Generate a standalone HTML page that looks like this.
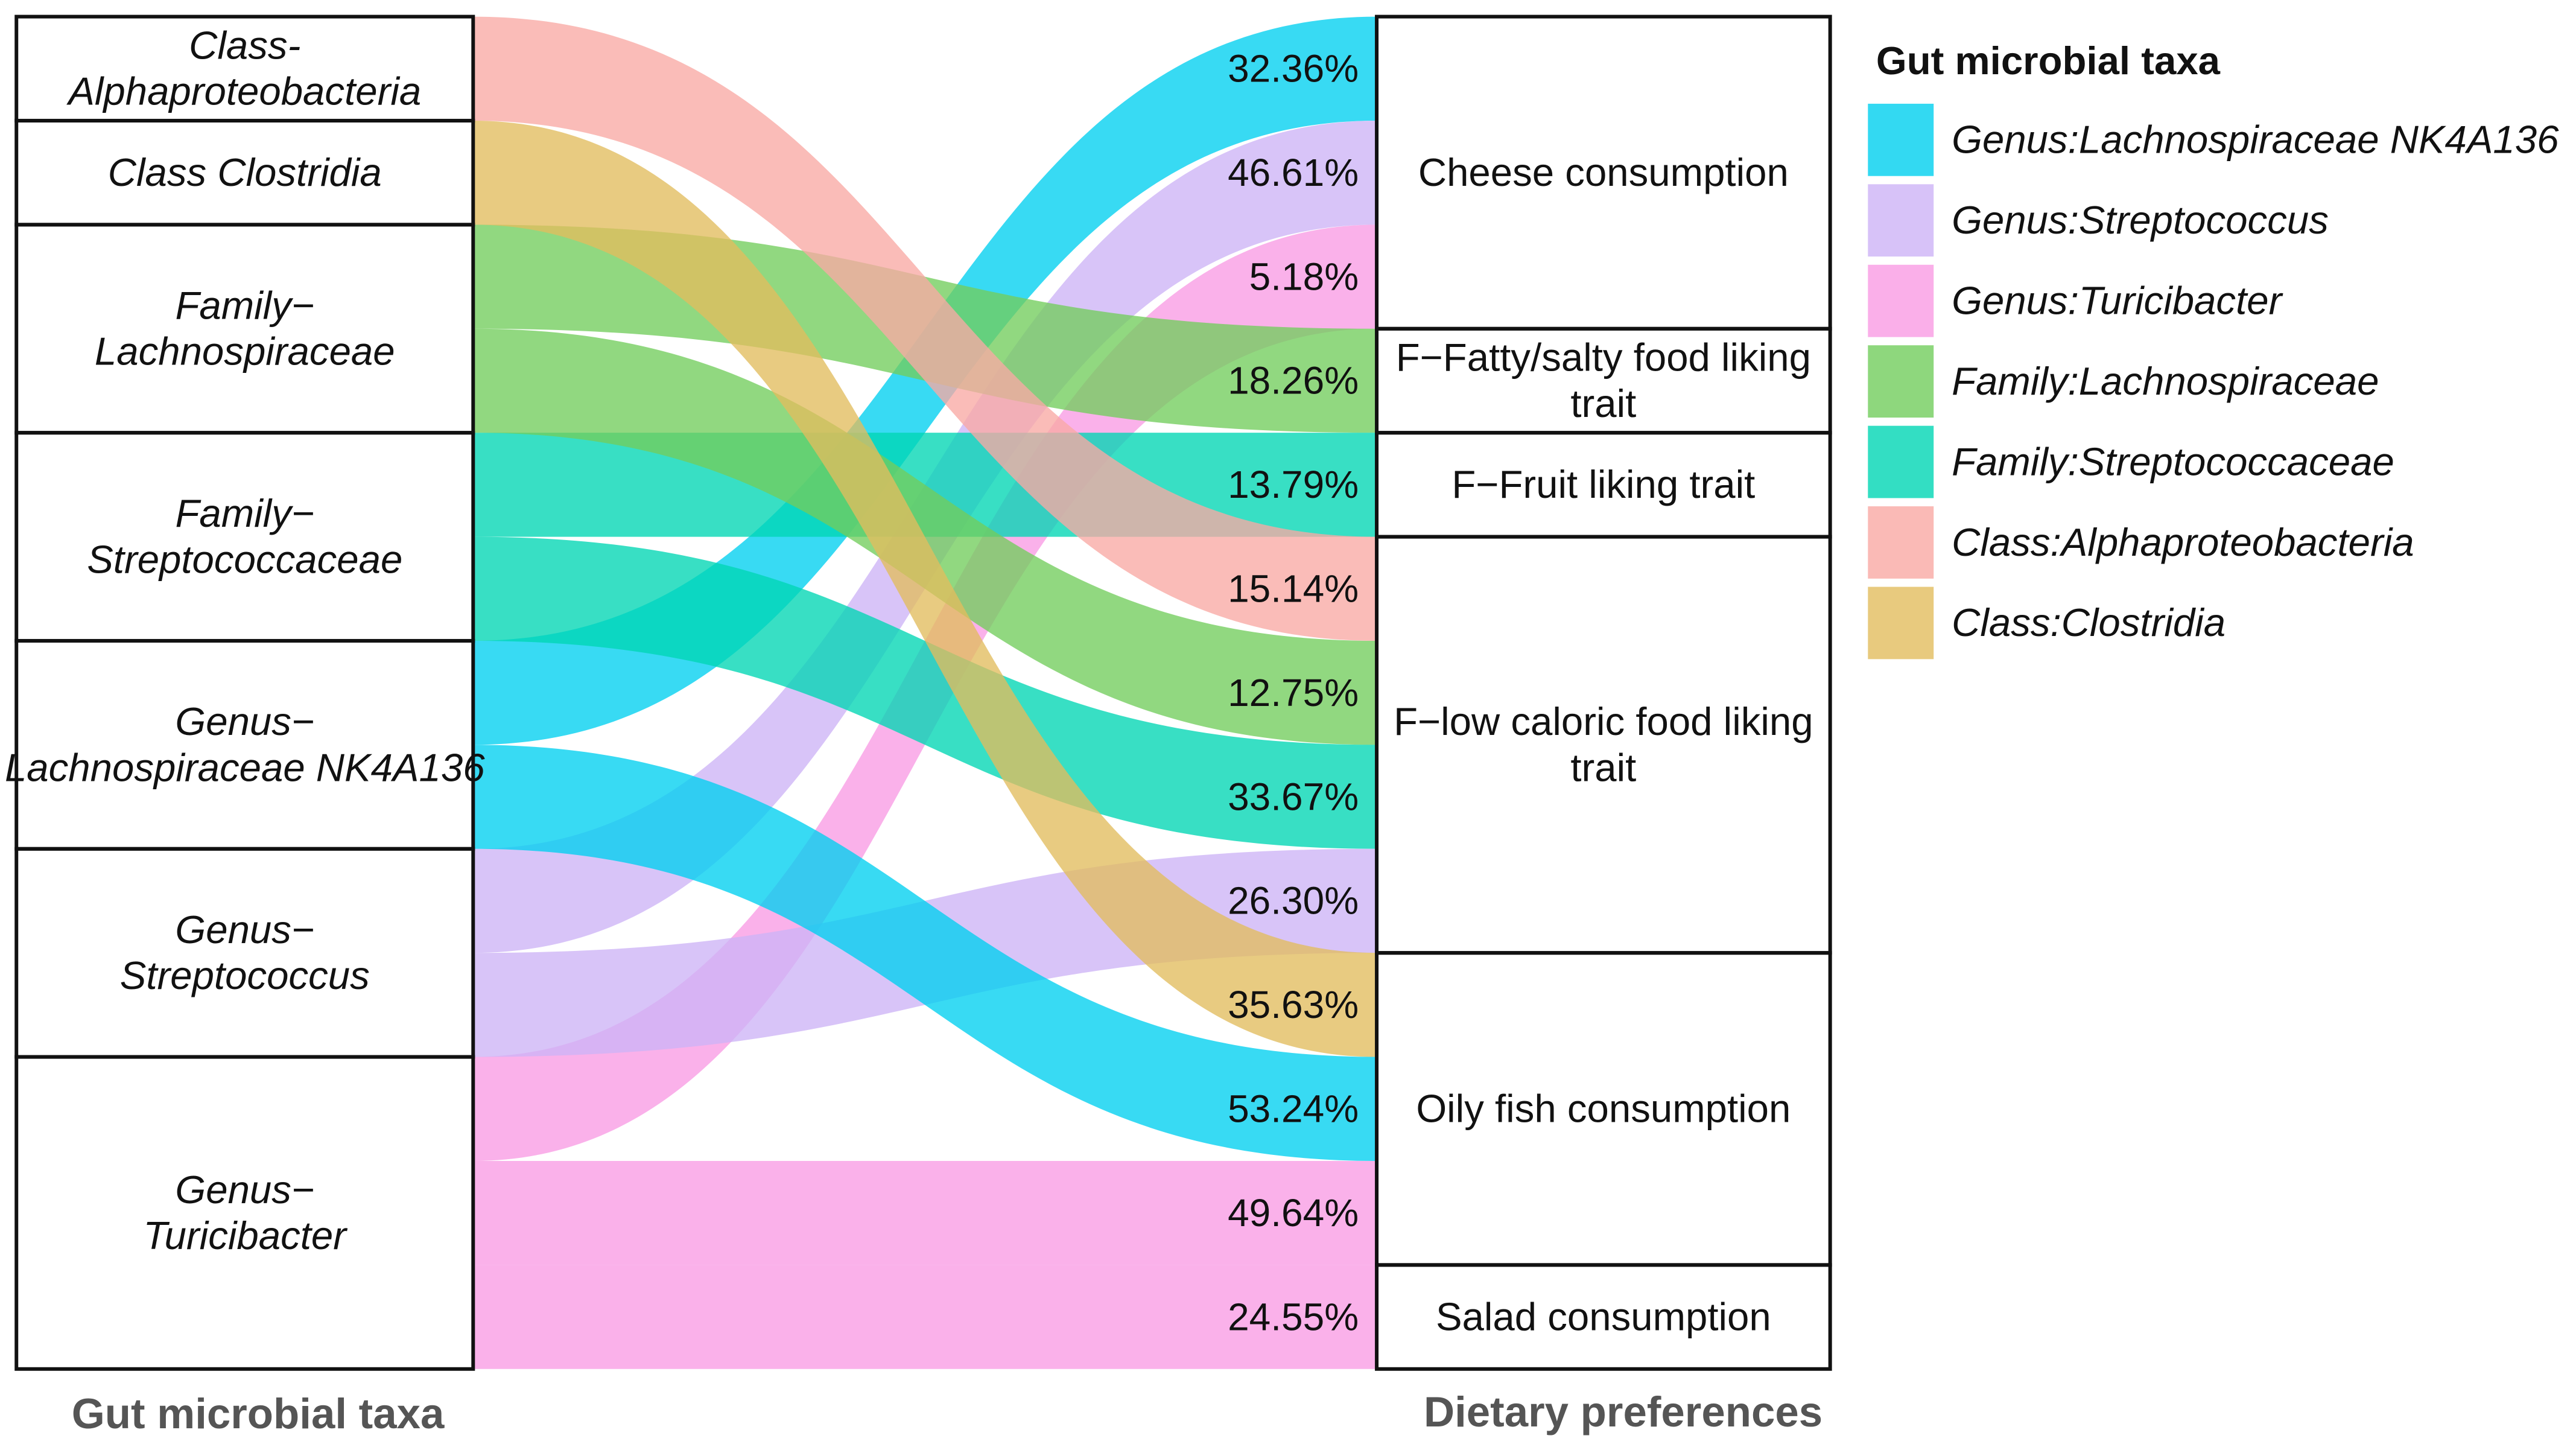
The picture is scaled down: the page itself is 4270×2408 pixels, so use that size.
<!DOCTYPE html>
<html><head><meta charset="utf-8"><style>
html,body{margin:0;padding:0;background:#fff;}
svg{display:block;font-family:"Liberation Sans",sans-serif;}
</style></head><body>
<svg id="chart" width="4270" height="2408" viewBox="0 0 1568 884">
<g id="flows"></g>
<g id="nodes"></g>
<g id="legend"></g>
<text x="157" y="869" text-anchor="middle" font-size="26" font-weight="bold" fill="#555">Gut microbial taxa</text>
<text x="988" y="868" text-anchor="middle" font-size="26" font-weight="bold" fill="#555">Dietary preferences</text>
</svg>
<script>
const sources = [["Class-","Alphaproteobacteria"],["Class Clostridia"],["Family−","Lachnospiraceae"],["Family−","Streptococcaceae"],["Genus−","Lachnospiraceae NK4A136"],["Genus−","Streptococcus"],["Genus−","Turicibacter"]];
const targets = [["Cheese consumption"],["F−Fatty/salty food liking","trait"],["F−Fruit liking trait"],["F−low caloric food liking","trait"],["Oily fish consumption"],["Salad consumption"]];
// flows in right-side order: source index, target index, percent label
const flowSource = [4,5,6,2,3,0,2,3,5,1,4,6,6];
const flowTarget = [0,0,0,1,2,3,3,3,3,4,4,4,5];
const flowValues = [32.36,46.61,5.18,18.26,13.79,15.14,12.75,33.67,26.30,35.63,53.24,49.64,24.55];
const taxaColors = ["#f9a9a4","#e2bd5e","#72cd5c","#00d6b4","#00cfef","#cdb3f6","#f99be4"];
const legendLabels = ["Genus:Lachnospiraceae NK4A136","Genus:Streptococcus","Genus:Turicibacter","Family:Lachnospiraceae","Family:Streptococcaceae","Class:Alphaproteobacteria","Class:Clostridia"];
const legendColorIdx = [4,5,6,2,3,0,1];

const NS="http://www.w3.org/2000/svg";
const top0=10, bot0=833, n=flowValues.length, bh=(bot0-top0)/n;
const lx0=10, lx1=288, rx0=838, rx1=1114;
function mk(t,a,p){const e=document.createElementNS(NS,t);for(const k in a)e.setAttribute(k,a[k]);p.appendChild(e);return e;}
const leftOrder=[...Array(n).keys()].sort((a,b)=>flowSource[a]-flowSource[b]||a-b);
const leftSlot=[];leftOrder.forEach((f,i)=>leftSlot[f]=i);
const flowsG=document.getElementById('flows');
for(let i=0;i<n;i++){
  const y0=top0+leftSlot[i]*bh, y1=top0+i*bh, mx=(lx1+rx0)/2;
  const p=mk('path',{d:`M${lx1},${y0} C${mx},${y0} ${mx},${y1} ${rx0},${y1} L${rx0},${y1+bh} C${mx},${y1+bh} ${mx},${y0+bh} ${lx1},${y0+bh} Z`,fill:taxaColors[flowSource[i]],'fill-opacity':0.78},flowsG);
  
  
  const t=mk('text',{x:827,y:y1+bh/2+8,'text-anchor':'end','font-size':23.5,fill:'#111'},flowsG);
  t.textContent=flowValues[i].toFixed(2)+'%';
  
  
}
const nodesG=document.getElementById('nodes');
function node(x0,x1,ya,yb,lines,italic,name){
  const r=mk('rect',{x:x0,y:ya,width:x1-x0,height:yb-ya,fill:'none',stroke:'#111','stroke-width':2.2},nodesG);
  
  
  const cy=(ya+yb)/2, cx=(x0+x1)/2;
  lines.forEach((l,j)=>{
    const t=mk('text',{x:cx,y:cy+8+(j-(lines.length-1)/2)*28,'text-anchor':'middle','font-size':24,fill:'#111','font-style':italic?'italic':'normal'},nodesG);
    t.textContent=l;
    
    
  });
}
sources.forEach((s,k)=>{
  const sl=leftOrder.filter(f=>flowSource[f]===k).map(f=>leftSlot[f]);
  node(lx0,lx1,top0+Math.min(...sl)*bh,top0+(Math.max(...sl)+1)*bh,s,true,'source-node-'+k);
});
targets.forEach((s,k)=>{
  const sl=[...Array(n).keys()].filter(f=>flowTarget[f]===k);
  node(rx0,rx1,top0+Math.min(...sl)*bh,top0+(Math.max(...sl)+1)*bh,s,false,'target-node-'+k);
});
const lg=document.getElementById('legend');
const lt=mk('text',{x:1142,y:45,'font-size':24,'font-weight':'bold',fill:'#111'},lg);
lt.textContent='Gut microbial taxa';


legendLabels.forEach((l,i)=>{
  const y=63+i*49;
  const r=mk('rect',{x:1137,y:y,width:40,height:44,fill:taxaColors[legendColorIdx[i]],'fill-opacity':0.8},lg);
  
  
  const t=mk('text',{x:1188,y:y+30,'font-size':24,'font-style':'italic',fill:'#111'},lg);
  t.textContent=l;
  
  
});
</script>
</body></html>
